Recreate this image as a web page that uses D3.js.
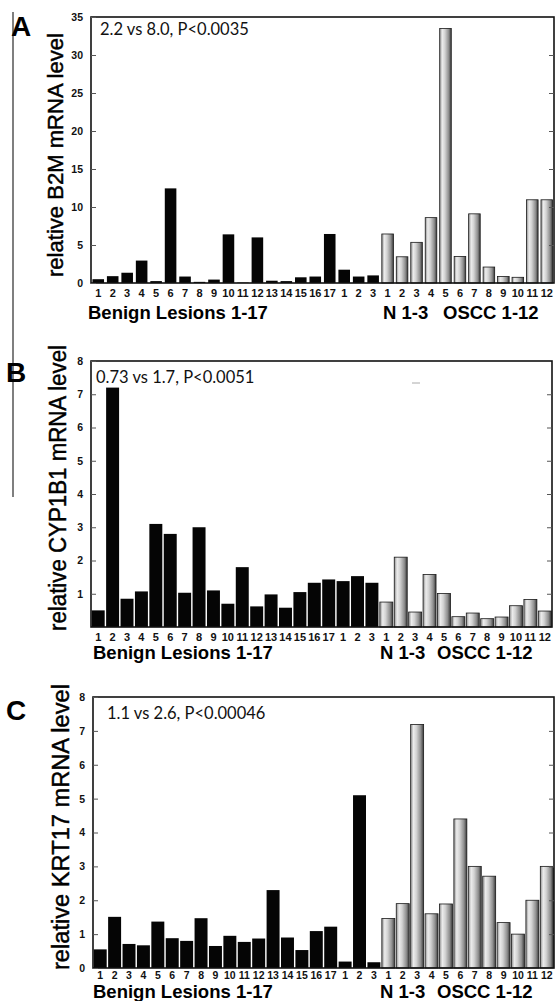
<!DOCTYPE html>
<html>
<head>
<meta charset="utf-8">
<script src="https://cdn.jsdelivr.net/npm/d3@7"></script>
<style>
  body { margin: 0; background: #fff; }
  svg { display: block; }
  text { font-family: "Liberation Sans", Arial, Helvetica, sans-serif; }
</style>
</head>
<body>
<div id="chart"></div>
<script>
// Sample labels: benign lesions 1-17, normal 1-3, OSCC 1-12
const xTickLabels = [
  '1','2','3','4','5','6','7','8','9','10','11','12','13','14','15','16','17',
  '1','2','3',
  '1','2','3','4','5','6','7','8','9','10','11','12'
];
const sampleGroups = [
  ...Array(17).fill('benign'),
  ...Array(3).fill('normal'),
  ...Array(12).fill('oscc')
];

// relative mRNA levels
const b2mValues = [
  0.5, 0.9, 1.35, 2.95, 0.25, 12.45, 0.85, 0.15, 0.45, 6.4, 0.05, 6.0, 0.3, 0.25, 0.75, 0.85, 6.45,
  1.75, 0.85, 1.0,
  6.45, 3.45, 5.35, 8.6, 33.5, 3.5, 9.1, 2.1, 0.85, 0.75, 10.95, 10.95
];
const cyp1b1Values = [
  0.5, 7.2, 0.85, 1.07, 3.1, 2.8, 1.03, 3.0, 1.1, 0.7, 1.8, 0.62, 0.98, 0.58, 1.05, 1.33, 1.43,
  1.38, 1.53, 1.33,
  0.75, 2.1, 0.45, 1.58, 1.01, 0.31, 0.42, 0.25, 0.3, 0.64, 0.83, 0.48
];
const krt17Values = [
  0.55, 1.51, 0.71, 0.67, 1.37, 0.88, 0.8, 1.47, 0.65, 0.95, 0.77, 0.87, 2.3, 0.9, 0.53, 1.09, 1.22,
  0.19, 5.1, 0.17,
  1.46, 1.9, 7.19, 1.6, 1.89, 4.4, 3.0, 2.71, 1.34, 1.0, 2.0, 3.0
];

const b2mTicks = [0, 5, 10, 15, 20, 25, 30, 35];
const cyp1b1Ticks = [1, 2, 3, 4, 5, 6, 7, 8];
const krt17Ticks = [0, 1, 2, 3, 4, 5, 6, 7, 8];

const panelLetters = ['A', 'B', 'C'];
const yLabels = ['relative B2M mRNA level', 'relative CYP1B1 mRNA level', 'relative KRT17 mRNA level'];
const statTexts = ['2.2 vs 8.0, P<0.0035', '0.73 vs 1.7, P<0.0051', '1.1 vs 2.6, P<0.00046'];

const panels = [
  { values: b2mValues, ticks: b2mTicks, yMax: 35, pad: 0.2,
    frame: { x0: 91, x1: 554, y0: 17, y1: 283 },
    letter: [11, 36], ylab: [55, 155, 244, 22], stat: [100, 35], xlabY: 319, tickPad: 6, tickFont: 11 },
  { values: cyp1b1Values, ticks: cyp1b1Ticks, yMax: 8, pad: 0.1,
    frame: { x0: 91, x1: 552, y0: 361, y1: 627 },
    letter: [6, 382], ylab: [58, 488, 286, 23], stat: [96, 383], xlabY: 659, tickPad: 6, tickFont: 11 },
  { values: krt17Values, ticks: krt17Ticks, yMax: 8, pad: 0.1,
    frame: { x0: 93, x1: 554, y0: 697, y1: 968 },
    letter: [6, 720], ylab: [61, 827, 286, 23], stat: [107, 719], xlabY: 998, tickPad: 4, tickFont: 10.5 }
];

const W = 555, H = 1001;
const svg = d3.select('#chart').append('svg')
  .attr('width', W)
  .attr('height', H);

// cylinder-like shading for the OSCC bars
const grad = svg.append('defs').append('linearGradient')
  .attr('id', 'grayBar')
  .attr('x1', '0%').attr('x2', '100%').attr('y1', '0%').attr('y2', '0%');
[[0, '#8c8c8c'], [0.22, '#ececec'], [0.45, '#d2d2d2'], [0.78, '#8e8e8e'], [1, '#3a3a3a']]
  .forEach(([o, c]) => grad.append('stop').attr('offset', o).attr('stop-color', c));

// stray vertical rule at the far left of the figure
svg.append('line')
  .attr('x1', 13).attr('x2', 13).attr('y1', 12).attr('y2', 497)
  .attr('stroke', '#555').attr('stroke-width', 1.5);

panels.forEach((p, pi) => {
  const f = p.frame;
  const idx = d3.range(p.values.length);

  const x = d3.scaleBand().domain(idx).range([f.x0, f.x1]).paddingInner(p.pad).paddingOuter(p.pad / 2);
  const y = d3.scaleLinear().domain([0, p.yMax]).range([f.y1, f.y0]);

  const g = svg.append('g');

  // Bars
  g.selectAll('rect.bar')
    .data(idx)
    .join('rect')
    .attr('class', 'bar')
    .attr('x', i => x(i))
    .attr('y', i => y(p.values[i]))
    .attr('width', x.bandwidth())
    .attr('height', i => y(0) - y(p.values[i]))
    .attr('fill', i => sampleGroups[i] === 'oscc' ? 'url(#grayBar)' : '#050505')
    .attr('stroke', i => sampleGroups[i] === 'oscc' ? '#1a1a1a' : 'none')
    .attr('stroke-width', 0.8);

  // Frame
  g.append('rect')
    .attr('x', f.x0).attr('y', f.y0)
    .attr('width', f.x1 - f.x0).attr('height', f.y1 - f.y0)
    .attr('fill', 'none')
    .attr('stroke', '#111')
    .attr('stroke-width', 1.6);

  // Y axis, inward ticks on both sides
  const yAxis = g.append('g')
    .attr('transform', `translate(${f.x0},0)`)
    .call(d3.axisLeft(y).tickValues(p.ticks).tickSize(-5).tickPadding(8).tickFormat(d3.format('d')));
  yAxis.select('.domain').remove();
  yAxis.selectAll('line').attr('stroke', '#555');
  yAxis.selectAll('text')
    .style('font-size', '10.5px').style('font-weight', '700').attr('fill', '#111');

  const yAxisR = g.append('g')
    .attr('transform', `translate(${f.x1},0)`)
    .call(d3.axisRight(y).tickValues(p.ticks.filter(t => t > 0 && t < p.yMax)).tickSize(-5).tickFormat(''));
  yAxisR.select('.domain').remove();
  yAxisR.selectAll('line').attr('stroke', '#555');

  // X axis labels
  const xAxis = g.append('g')
    .attr('transform', `translate(0,${f.y1})`)
    .call(d3.axisBottom(x).tickSize(0).tickPadding(p.tickPad).tickFormat(i => xTickLabels[i]));
  xAxis.select('.domain').remove();
  xAxis.selectAll('text')
    .style('font-size', p.tickFont + 'px').style('font-weight', '700').attr('fill', '#111');

  // Group labels under the axis
  g.append('text')
    .attr('x', pi === 0 ? 88 : 93).attr('y', p.xlabY)
    .style('font-size', '18.5px').style('font-weight', '700')
    .text('Benign Lesions 1-17');
  g.append('text')
    .attr('x', pi === 0 ? 383 : 380).attr('y', p.xlabY)
    .style('font-size', '18.5px').style('font-weight', '700')
    .text('N 1-3');
  g.append('text')
    .attr('x', pi === 0 ? 443 : 437).attr('y', p.xlabY)
    .style('font-size', '18.5px').style('font-weight', '700')
    .text('OSCC 1-12');

  // Y label
  g.append('text')
    .attr('transform', `translate(${p.ylab[0]},${p.ylab[1]}) rotate(-90)`)
    .attr('text-anchor', 'middle')
    .attr('dy', '0.35em')
    .attr('textLength', p.ylab[2])
    .attr('lengthAdjust', 'spacingAndGlyphs')
    .attr('stroke', '#000')
    .attr('stroke-width', 0.45)
    .style('font-size', p.ylab[3] + 'px')
    .text(yLabels[pi]);

  // Panel letter
  g.append('text')
    .attr('x', p.letter[0]).attr('y', p.letter[1])
    .style('font-size', '28px').style('font-weight', '700')
    .text(panelLetters[pi]);

  // Statistic annotation
  g.append('text')
    .attr('x', p.stat[0]).attr('y', p.stat[1])
    .style('font-family', 'Lato, "Open Sans", sans-serif')
    .style('font-size', '16.5px')
    .attr('fill', '#111')
    .text(statTexts[pi]);
});

// faint stray dash in panel B
svg.append('line')
  .attr('x1', 412).attr('x2', 420).attr('y1', 383).attr('y2', 383)
  .attr('stroke', '#aaa').attr('stroke-width', 1);
</script>
</body>
</html>
